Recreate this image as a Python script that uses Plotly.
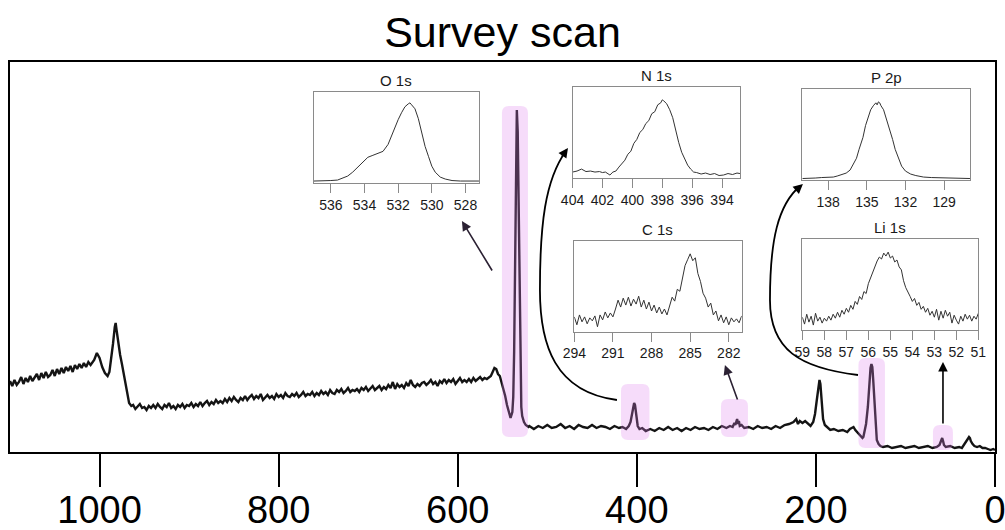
import plotly.graph_objects as go

FONT = "Liberation Sans"

# ---------------- main survey spectrum (binding energy, eV ; intensity a.u.) -------------
survey_be = [
    1100.0, 1097.5, 1095.0, 1092.5, 1090.0, 1087.5, 1085.0, 1082.5, 1080.0, 1077.5,
    1075.0, 1072.5, 1070.0, 1067.5, 1065.0, 1062.5, 1060.0, 1057.5, 1055.0, 1052.5,
    1050.0, 1047.5, 1045.0, 1042.5, 1040.0, 1037.5, 1035.0, 1032.5, 1030.0, 1027.5,
    1025.0, 1022.5, 1020.0, 1017.5, 1015.0, 1012.5, 1010.0,
    1006, 1003, 1000, 997, 994, 991, 989, 987, 985, 983, 982, 981, 979,
    977, 975, 973, 971, 969, 967, 964.5,
    962.5, 960.0, 957.5, 955.0, 952.5, 950.0, 947.5, 945.0, 942.5, 940.0,
    937.5, 935.0, 932.5, 930.0, 927.5, 925.0, 922.5, 920.0, 917.5, 915.0,
    912.5, 910.0, 907.5, 905.0, 902.5, 900.0, 897.5, 895.0, 892.5, 890.0,
    887.5, 885.0, 882.5, 880.0, 877.5, 875.0, 872.5, 870.0, 867.5, 865.0,
    862.5, 860.0, 857.5, 855.0, 852.5, 850.0, 847.5, 845.0, 842.5, 840.0,
    837.5, 835.0, 832.5, 830.0, 827.5, 825.0, 822.5, 820.0, 817.5, 815.0,
    812.5, 810.0, 807.5, 805.0, 802.5, 800.0, 797.5, 795.0, 792.5, 790.0,
    787.5, 785.0, 782.5, 780.0, 777.5, 775.0, 772.5, 770.0, 767.5, 765.0,
    762.5, 760.0, 757.5, 755.0, 752.5, 750.0, 747.5, 745.0, 742.5, 740.0,
    737.5, 735.0, 732.5, 730.0, 727.5, 725.0, 722.5, 720.0, 717.5, 715.0,
    712.5, 710.0, 707.5, 705.0, 702.5, 700.0, 697.5, 695.0, 692.5, 690.0,
    687.5, 685.0, 682.5, 680.0, 677.5, 675.0, 672.5, 670.0, 667.5, 665.0,
    662.5, 660.0, 657.5, 655.0, 652.5, 650.0, 647.5, 645.0, 642.5, 640.0,
    637.5, 635.0, 632.5, 630.0, 627.5, 625.0, 622.5, 620.0, 617.5, 615.0,
    612.5, 610.0, 607.5, 605.0, 602.5, 600.0, 597.5, 595.0, 592.5, 590.0,
    587.5, 585.0, 582.5, 580.0, 577.5, 575.0, 572.5, 570.0, 567.5, 565.0,
    563, 561, 559,
    557, 555, 553, 551, 549, 547, 545, 543, 541, 539, 538, 537, 536, 535, 534, 533, 532, 531,
    530, 529, 528, 526, 524, 521, 520, 515, 510, 505, 500, 495, 490, 485, 480, 475, 470, 465,
    460, 455, 450, 445, 440, 435, 430, 425, 420, 416, 412, 409, 407, 405, 404, 403, 402, 401,
    400, 399, 397, 394, 390, 385, 380, 375, 370, 365, 360, 355, 350, 345, 340, 335, 330, 325,
    320, 315, 310, 305, 300, 296, 293, 291, 290, 289, 288, 287, 286, 285, 283, 280, 275, 270,
    265, 260, 255, 250, 245, 240, 235, 230, 225, 222, 220, 218, 215, 212, 209, 206, 203, 201,
    199, 197, 196, 195, 194, 193, 192, 190, 187, 184, 180, 175, 170, 165, 162, 160, 158, 156,
    154, 152, 150, 148, 147, 146, 144, 142, 141, 140, 139, 138, 137, 136, 135, 134, 133, 132,
    130, 128, 125, 120, 115, 110, 105, 100, 95, 90, 85, 80, 75, 70, 65, 62, 60, 59, 58, 57,
    55, 50, 45, 40, 37, 35, 33, 31, 29, 28, 27, 25, 23, 20, 17, 14, 11, 8, 5, 2, 0,
]
survey_counts = [
    71, 66, 72, 67, 70, 75, 68, 74, 70, 76,
    71, 74, 78, 72, 79, 74, 80, 75, 77, 82,
    76, 83, 78, 84, 79, 85, 81, 86, 80, 87,
    83, 88, 84, 89, 85, 90, 87,
    92, 99, 94, 85, 79, 76, 80, 92, 108, 125, 129, 122, 108,
    97, 88, 78, 66, 55, 49, 46,
    47, 43, 46, 48, 44, 45, 42, 46, 44, 47,
    44, 48, 45, 43, 47, 45, 49, 44, 46, 43,
    47, 45, 48, 44, 47, 46, 49, 45, 48, 46,
    50, 46, 49, 51, 47, 50, 48, 52, 49, 51,
    49, 53, 50, 54, 51, 55, 52, 50, 54, 52,
    56, 52, 55, 57, 53, 56, 54, 58, 52, 55,
    57, 54, 56, 53, 58, 55, 57, 54, 59, 56,
    55, 58, 56, 59, 55, 57, 60, 56, 58, 57,
    60, 56, 59, 57, 61, 58, 60, 57, 62, 59,
    58, 62, 60, 63, 59, 61, 64, 60, 62, 61,
    63, 60, 64, 62, 65, 61, 63, 66, 62, 64,
    66, 62, 65, 63, 67, 64, 70, 63, 68, 65,
    67, 64, 69, 66, 72, 67, 65, 68, 66, 69,
    70, 67, 69, 72, 68, 70, 66, 71, 69, 73,
    69, 72, 70, 73, 68, 71, 74, 70, 72, 70,
    73, 70, 74, 71, 73, 75, 72, 74, 73, 75,
    76, 80, 84,
    83, 78, 76, 70, 64, 56, 47, 40, 34, 40, 55, 100, 190, 290, 342, 320, 240, 140,
    70, 45, 36, 30, 27, 25, 26, 23, 26, 24, 27, 24, 25, 28, 24, 26, 23, 27,
    25, 24, 27, 24, 26, 25, 23, 26, 24, 25, 23, 26, 30, 40, 46, 49, 47, 40,
    31, 26, 23, 24, 21, 23, 21, 24, 22, 25, 22, 24, 21, 24, 22, 25, 23, 24,
    22, 25, 23, 26, 24, 26, 25, 29, 27, 31, 33, 28, 31, 26, 27, 24, 25, 23,
    26, 24, 25, 23, 26, 24, 27, 28, 30, 33, 28, 31, 29, 31, 28, 26, 30, 38,
    52, 68, 72, 68, 55, 42, 33, 27, 24, 22, 23, 21, 22, 20, 23, 24, 25, 22,
    20, 18, 16, 14, 15, 20, 28, 45, 60, 75, 84, 88, 85, 72, 55, 35, 20, 12,
    8, 6, 5, 6, 4, 5, 6, 4, 5, 6, 4, 5, 6, 4, 5, 7, 11, 14, 11, 7,
    5, 6, 4, 5, 4, 7, 9, 12, 15, 14, 11, 8, 6, 5, 6, 4, 4, 3, 2, 3, 2,
]
survey_ticks = [1000, 800, 600, 400, 200, 0]

# ---------------- high-resolution insets -------------
o1s_be = [537.0, 536.5, 536.0, 535.6, 535.3, 535.0, 534.7, 534.4, 534.1, 533.8, 533.5, 533.2,
          532.9, 532.6, 532.4, 532.2, 532.0, 531.8, 531.6, 531.4, 531.3, 531.2, 531.0, 530.8,
          530.6, 530.4, 530.2, 530.0, 529.8, 529.5, 529.2, 528.8, 528.3, 527.7, 527.2]
o1s_counts = [1, 1, 1.5, 2, 4, 6, 10, 15, 21, 25, 27, 29,
              31, 38, 47, 56, 63, 70, 76, 79, 80, 78, 74, 64,
              50, 36, 26, 16, 10, 5, 3, 1.5, 1, 1, 1]
o1s_ticks = [536, 534, 532, 530, 528]

n1s_be = [404.0, 403.7, 403.4, 403.1, 402.8, 402.5, 402.2, 402.0, 401.8, 401.5, 401.3, 401.1,
          400.9, 400.7, 400.5, 400.3, 400.1, 399.9, 399.7, 399.5, 399.3, 399.1, 398.9, 398.7,
          398.5, 398.3, 398.1, 398.0, 397.9, 397.7, 397.5, 397.3, 397.1, 396.9, 396.7, 396.5,
          396.3, 396.1, 395.9, 395.7, 395.4, 395.1, 394.8, 394.5, 394.2, 393.9, 393.6, 393.3,
          393.0, 392.8]
n1s_counts = [5, 6, 8, 5.5, 6, 5, 5.5, 4.5, 5, 2, 5, 6,
              10, 13, 17, 23, 26, 34, 38, 45, 48, 54, 57, 64,
              66, 73, 75, 78, 77, 74, 68, 60, 46, 35, 25, 18,
              12, 8, 5, 4.5, 3, 4, 2.5, 3.5, 1.5, 2, 3.5, 2.5,
              4, 3.5]
n1s_ticks = [404, 402, 400, 398, 396, 394]

c1s_be = [294.0, 293.8, 293.6, 293.4, 293.2, 293.0, 292.8, 292.6, 292.4, 292.2, 292.0, 291.8,
          291.6, 291.4, 291.2, 291.0, 290.8, 290.6, 290.4, 290.2, 290.0, 289.8, 289.6, 289.4,
          289.2, 289.0, 288.8, 288.6, 288.4, 288.2, 288.0, 287.8, 287.6, 287.4, 287.2, 287.0,
          286.8, 286.6, 286.4, 286.2, 286.0, 285.8, 285.6, 285.4, 285.2, 285.0, 284.8, 284.6,
          284.4, 284.2, 284.0, 283.8, 283.6, 283.4, 283.2, 283.0, 282.8, 282.6, 282.4, 282.2,
          282.0, 281.8, 281.6, 281.4, 281.2, 281.0]
c1s_counts = [14, 6, 16, 9, 14, 7, 13, 10, 15, 4, 16, 11,
              19, 13, 18, 14, 22, 31, 24, 33, 26, 34, 25, 32,
              27, 35, 24, 31, 22, 29, 20, 26, 18, 24, 17, 22,
              16, 25, 34, 30, 42, 40, 55, 66, 72, 78, 71, 74,
              58, 50, 38, 33, 24, 28, 16, 20, 10, 16, 8, 14,
              6, 13, 9, 12, 8, 15]
c1s_ticks = [294, 291, 288, 285, 282]

p2p_be = [140.0, 139.5, 139.0, 138.5, 138.0, 137.6, 137.3, 137.0, 136.6, 136.3, 136.1, 135.8,
          135.6, 135.3, 135.1, 134.9, 134.7, 134.5, 134.3, 134.2, 134.1, 134.0, 133.9, 133.7,
          133.5, 133.3, 133.0, 132.8, 132.5, 132.3, 132.0, 131.6, 131.2, 130.6, 130.0, 129.0,
          128.0, 127.0]
p2p_counts = [0.5, 0.5, 1, 1.5, 1.5, 2, 3, 4, 6, 9, 14, 21,
              30, 42, 54, 62, 70, 74, 77, 75, 78, 77, 74, 70,
              62, 53, 40, 30, 20, 13, 8, 5, 3.5, 2, 1.5, 1,
              0.5, 0.5]
p2p_ticks = [138, 135, 132, 129]

li1s_be = [59.0, 58.9, 58.8, 58.7, 58.6, 58.5, 58.4, 58.3, 58.2, 58.1, 58.0, 57.9, 57.8, 57.7,
           57.6, 57.5, 57.4, 57.3, 57.2, 57.1, 57.0, 56.9, 56.8, 56.7, 56.6, 56.5, 56.4, 56.3,
           56.2, 56.1, 56.0, 55.9, 55.8, 55.7, 55.6, 55.5, 55.4, 55.3, 55.2, 55.1, 55.0, 54.9,
           54.8, 54.7, 54.6, 54.5, 54.4, 54.3, 54.2, 54.1, 54.0, 53.9, 53.8, 53.7, 53.6, 53.5,
           53.4, 53.3, 53.2, 53.1, 53.0, 52.9, 52.8, 52.7, 52.6, 52.5, 52.4, 52.3, 52.2, 52.1,
           52.0, 51.9, 51.8, 51.7, 51.6, 51.5, 51.4, 51.3, 51.2, 51.1, 51.0]
li1s_counts = [12, 5, 15, 7, 13, 4, 16, 8, 12, 6, 11, 8, 13, 9,
               15, 11, 17, 12, 19, 15, 21, 17, 24, 20, 28, 25, 33, 30,
               38, 36, 46, 52, 58, 62, 69, 73, 71, 77, 74, 78, 72, 74,
               68, 70, 63, 60, 49, 42, 38, 33, 28, 31, 24, 27, 20, 23,
               17, 21, 14, 18, 12, 20, 9, 18, 11, 19, 13, 17, 6, 14,
               9, 5, 13, 8, 15, 10, 14, 8, 13, 10, 16]
li1s_ticks = [59, 58, 57, 56, 55, 54, 53, 52, 51]

# inset definitions: title, x, y, ticks, x-range, paper domain x, paper domain y
insets = [
    ("O 1s", o1s_be, o1s_counts, o1s_ticks, [537.0, 527.2], [0.3086, 0.4761], [0.6897, 0.9231]),
    ("N 1s", n1s_be, n1s_counts, n1s_ticks, [404.0, 392.8], [0.5711, 0.7411], [0.7026, 0.9359]),
    ("C 1s", c1s_be, c1s_counts, c1s_ticks, [294.0, 281.0], [0.5729, 0.7428], [0.3085, 0.5410]),
    ("P 2p", p2p_be, p2p_counts, p2p_ticks, [140.0, 127.0], [0.8044, 0.9746], [0.6974, 0.9308]),
    ("Li 1s", li1s_be, li1s_counts, li1s_ticks, [59.0, 51.0], [0.8044, 0.9831], [0.3128, 0.5454]),
]

fig = go.Figure()

fig.add_trace(go.Scatter(x=survey_be, y=survey_counts, mode="lines",
                         line=dict(color="#141414", width=2.4), xaxis="x", yaxis="y",
                         showlegend=False, hoverinfo="skip"))

layout = dict(
    width=1005, height=530,
    margin=dict(l=10, r=10, t=62, b=78, autoexpand=False),
    paper_bgcolor="white", plot_bgcolor="white",
    font=dict(family=FONT, color="black"),
    showlegend=False,
    title=dict(text="Survey scan", x=0.5, xanchor="center", y=1 - 32 / 530, yanchor="middle",
               font=dict(family=FONT, size=43, color="black")),
    xaxis=dict(range=[1100, 0], domain=[0, 1], tickvals=survey_ticks,
               ticktext=[str(t) for t in survey_ticks],
               ticks="outside", ticklen=33, tickwidth=2, tickcolor="black",
               tickfont=dict(size=38, color="black", family=FONT),
               ticklabelstandoff=-10, ticklabeloverflow="allow",
               showline=True, linecolor="black", linewidth=2, mirror=True,
               showgrid=False, zeroline=False, anchor="y", automargin=False),
    yaxis=dict(range=[0, 390], domain=[0, 1], showticklabels=False, ticks="",
               showline=True, linecolor="black", linewidth=2, mirror=True,
               showgrid=False, zeroline=False, anchor="x", automargin=False),
)

annotations = []
for i, (name, xs, ys, ticks, xr, dx, dy) in enumerate(insets, start=2):
    xa, ya = f"x{i}", f"y{i}"
    fig.add_trace(go.Scatter(x=xs, y=ys, mode="lines", line=dict(color="#333333", width=1),
                             xaxis=xa, yaxis=ya, showlegend=False, hoverinfo="skip"))
    layout[f"xaxis{i}"] = dict(domain=dx, range=xr, anchor=ya, tickvals=ticks,
                               ticktext=[str(t) for t in ticks],
                               ticks="outside", ticklen=9, tickwidth=1, tickcolor="#8a8a8a",
                               tickfont=dict(size=14, color="#1a1a1a", family=FONT),
                               ticklabeloverflow="allow",
                               showline=True, linecolor="#8a8a8a", linewidth=1, mirror=True,
                               showgrid=False, zeroline=False, automargin=False)
    layout[f"yaxis{i}"] = dict(domain=dy, range=[-1, 91], anchor=xa, showticklabels=False,
                               ticks="", showline=True, linecolor="#8a8a8a", linewidth=1,
                               mirror=True, showgrid=False, zeroline=False, automargin=False)
    annotations.append(dict(text=name, xref=f"{xa} domain", yref=f"{ya} domain", x=0.5, y=1,
                            xanchor="center", yanchor="bottom", yshift=1, showarrow=False,
                            font=dict(size=15, color="#1a1a1a", family=FONT)))

fig.update_layout(**layout)

# ---------------- highlight boxes on the survey (BE range, intensity range) -------------
highlights = [
    (550.6, 521.6, 15, 346),   # O 1s
    (417.7, 385.9, 12, 68),    # N 1s
    (306.0, 275.9, 15, 53),    # C 1s
    (152.5, 122.9, 4, 94),     # P 2p
    (69.3, 47.0, 2, 27),       # Li 1s
]


def rounded_rect(xa, xb, ya, yb, rx=7.8, ry=7.0):
    x0, x1 = min(xa, xb), max(xa, xb)
    y0, y1 = min(ya, yb), max(ya, yb)
    return (f"M {x0 + rx},{y0} L {x1 - rx},{y0} Q {x1},{y0} {x1},{y0 + ry} "
            f"L {x1},{y1 - ry} Q {x1},{y1} {x1 - rx},{y1} L {x0 + rx},{y1} "
            f"Q {x0},{y1} {x0},{y1 - ry} L {x0},{y0 + ry} Q {x0},{y0} {x0 + rx},{y0} Z")


shapes = []
for (xa_, xb_, ya_, yb_) in highlights:
    shapes.append(dict(type="path", path=rounded_rect(xa_, xb_, ya_, yb_), xref="x", yref="y",
                       fillcolor="rgb(222,128,237)", opacity=0.28, line=dict(width=0),
                       layer="above"))

# curved connectors (N 1s and P 2p), in survey data coordinates
shapes.append(dict(type="path", xref="x", yref="y", layer="above",
                   path="M 422.2,52 C 491.4,60 508.2,107 508.2,162 C 508.2,227 502.6,272 479.1,301",
                   line=dict(color="black", width=1.8)))
shapes.append(dict(type="path", xref="x", yref="y", layer="above",
                   path="M 153.0,77 C 217.8,84 251.3,102 251.3,152 C 251.3,212 242.4,247 217.8,266",
                   line=dict(color="black", width=1.8)))
fig.update_layout(shapes=shapes)

arrow_style = dict(showarrow=True, arrowhead=2, arrowsize=1.2, arrowwidth=1.6, text="",
                   xref="x", yref="y")
# straight arrows: head (x, y), tail (ax, ay) in data coordinates
annotations.append(dict(x=595.3, y=231, ax=560.6, ay=180, axref="x", ayref="y",
                        arrowcolor="#2b2133", **arrow_style))
annotations.append(dict(x=301.6, y=87, ax=287.0, ay=51, axref="x", ayref="y",
                        arrowcolor="#2b2133", **arrow_style))
annotations.append(dict(x=58.1, y=90, ax=58.1, ay=27, axref="x", ayref="y",
                        arrowcolor="black", **arrow_style))
# heads of curved connectors
annotations.append(dict(x=476.9, y=304, ax=-7, ay=10, arrowcolor="black", **arrow_style))
annotations.append(dict(x=214.5, y=268, ax=-9, ay=8, arrowcolor="black", **arrow_style))

fig.update_layout(annotations=annotations)

fig.write_html("out.html")
